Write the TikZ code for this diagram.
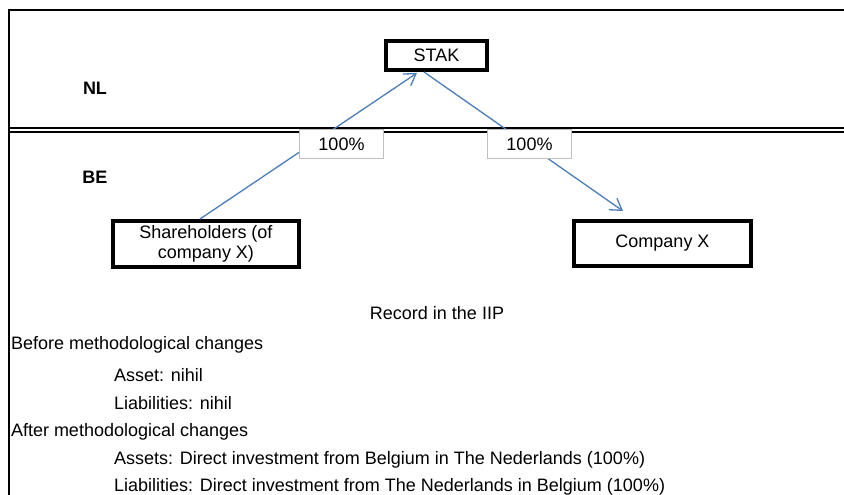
\documentclass[tikz,border=0pt]{standalone}
\usepackage{fontspec}
\setmainfont{Liberation Sans}
\usetikzlibrary{arrows.meta,calc}
\definecolor{conn}{RGB}{74,126,187}
\definecolor{lblgray}{RGB}{191,191,191}
\tikzset{
 txt/.style={font=\fontsize{18}{20.5}\selectfont, inner sep=0pt},
 entity/.style={txt, draw=black, line width=4pt, fill=white, align=center},
 pctbox/.style={txt, draw=lblgray, line width=1pt, fill=white, minimum width=84pt, minimum height=29pt},
 link/.style={draw=conn, line width=1.3pt},
 linkarrow/.style={link, -{Straight Barb[length=11pt,width=14pt,line width=1.3pt]}},
 country/.style={txt, font=\fontsize{18}{20.5}\selectfont\bfseries},
 rowtext/.style={txt, anchor=west, text height=12.9pt, text depth=0pt},
 frameline/.style={draw=black, line width=2pt},
 sepline/.style={draw=black, line width=1.7pt},
}
\begin{document}
\begin{tikzpicture}[x=1pt,y=-1pt]
\useasboundingbox (0,0) rectangle (844,495);
\fill[white] (0,0) rectangle (844,495);
% frame and country separator
\draw[frameline] (9,495) -- (9,10) -- (844,10);
\draw[sepline] (9,127.7) -- (844,127.7);
\draw[sepline] (9,131.7) -- (844,131.7);
% country labels
\node[country] (nl) at (95,88) {NL};
\node[country] (be) at (95,177) {BE};
% entities
\node[entity, minimum width=101pt, minimum height=29pt] (stak) at (436.5,55.5) {STAK};
\node[entity, minimum width=186pt, minimum height=46pt] (sh) at (206,244) {Shareholders (of\\company X)};
\node[entity, minimum width=177pt, minimum height=45pt] (cx) at (662.5,243.5) {Company X};
% connectors
\draw[linkarrow] ($(sh.north)+(-6,0)$) -- ($(stak.south)+(-19.5,1)$);
\draw[linkarrow] ($(stak.south)+(-12.5,0)$) -- ($(cx.north)+(-39.5,-8)$);
% percentage labels
\node[pctbox] (p1) at (341.5,144) {100\%};
\node[pctbox] (p2) at (529.5,144) {100\%};
% record text
\node[rowtext, anchor=center] (rec) at (437,313) {Record in the IIP};
\node[rowtext] (before) at (10.8,343) {Before methodological changes};
\node[rowtext] (asset) at (114,375) {Asset: nihil};
\node[rowtext] (liab) at (114,403) {Liabilities: nihil};
\node[rowtext] (after) at (10.8,430) {After methodological changes};
\node[rowtext] (assets2) at (114,458) {Assets: Direct investment from Belgium in The Nederlands (100\%)};
\node[rowtext] (liab2) at (114,485) {Liabilities: Direct investment from The Nederlands in Belgium (100\%)};
\end{tikzpicture}
\end{document}
